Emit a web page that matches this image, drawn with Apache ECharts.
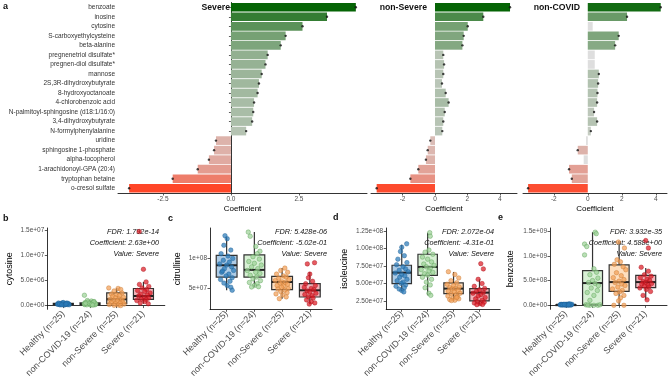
<!DOCTYPE html>
<html>
<head>
<meta charset="utf-8">
<script src="https://cdn.jsdelivr.net/npm/echarts@6/dist/echarts.min.js"></script>
<style>
html, body { margin: 0; padding: 0; background: #fff; }
#main { width: 669px; height: 384px; }
</style>
</head>
<body>
<div id="main"></div>
<script>
// ---- panel a: coefficients per comparison ----
var metabolites = ['benzoate', 'inosine', 'cytosine', 'S-carboxyethylcysteine', 'beta-alanine',
  'pregnenetriol disulfate*', 'pregnen-diol disulfate*', 'mannose', '2S,3R-dihydroxybutyrate',
  '8-hydroxyoctanoate', '4-chlorobenzoic acid', 'N-palmitoyl-sphingosine (d18:1/16:0)',
  '3,4-dihydroxybutyrate', 'N-formylphenylalanine', 'uridine', 'sphingosine 1-phosphate',
  'alpha-tocopherol', '1-arachidonoyl-GPA (20:4)', 'tryptophan betaine', 'o-cresol sulfate'];
var severeCoef = [4.59, 3.53, 2.63, 2.01, 1.83, 1.35, 1.27, 1.13, 1.03, 0.98, 0.85, 0.82, 0.78, 0.56, -0.55, -0.62, -0.81, -1.22, -2.14, -3.74];
var nonSevereCoef = [4.63, 2.98, 2.02, 1.77, 1.69, 0.51, 0.56, 0.51, 0.43, 0.66, 0.84, 0.6, 0.51, 0.45, -0.29, -0.45, -0.56, -1.03, -1.52, -3.6];
var nonCovidCoef = [4.29, 2.31, 0.29, 1.82, 1.61, 0.41, 0.41, 0.65, 0.61, 0.57, 0.55, 0.37, 0.55, 0.18, -0.1, -0.59, -0.24, -1.1, -0.94, -3.51];
var severeSig = [1, 1, 1, 1, 1, 1, 1, 1, 1, 1, 1, 1, 1, 1, 1, 1, 1, 1, 1, 1];
var nonSevereSig = [1, 1, 1, 1, 1, 1, 1, 1, 1, 1, 1, 1, 1, 1, 1, 1, 1, 1, 1, 1];
var nonCovidSig = [1, 1, 0, 1, 1, 0, 0, 1, 1, 1, 1, 1, 1, 1, 0, 1, 0, 1, 1, 1];
var panelTitles = ['Severe', 'non-Severe', 'non-COVID'];
var severeTicks = [-2.5, 0, 2.5];
var otherTicks = [-2, 0, 2, 4];

// ---- panels b-e: groups, box stats [min, Q1, median, Q3, max], points [jitter, value] ----
var groups = ['Healthy (n=25)', 'non-COVID-19 (n=24)', 'non-Severe (n=25)', 'Severe (n=21)'];

// cytosine, units of 1e6
var cytosineBox = [[0.1, 0.2, 0.3, 0.45, 0.7], [0.1, 0.15, 0.3, 0.55, 1.1], [0, 0.36, 1.25, 2.52, 3.5], [0.36, 1.25, 1.9, 3.39, 4.7]];
var cytosinePts = [
  [[-0.2,0.3],[-0.15,0.2],[-0.1,0.4],[-0.05,0.25],[0,0.35],[0.05,0.3],[0.1,0.45],[0.15,0.2],[0.2,0.3],[-0.18,0.5],[-0.12,0.15],[-0.03,0.55],[0.03,0.1],[0.08,0.25],[0.12,0.35],[0.18,0.4],[-0.08,0.3],[0.22,0.15],[-0.22,0.25],[0,0.6],[0.06,0.2],[-0.14,0.35],[0.14,0.5],[-0.06,0.15],[0.1,0.3]],
  [[-0.21,2.05],[-0.1,1.0],[0.05,0.9],[0.15,0.8],[-0.18,0.6],[-0.05,0.5],[0.1,0.6],[0.2,0.4],[-0.15,0.3],[0,0.3],[0.12,0.2],[-0.2,0.2],[0.08,0.45],[-0.08,0.7],[0.18,0.15],[0.02,0.1],[-0.12,0.15],[0.22,0.3],[0.14,0.7],[-0.02,0.4],[-0.22,0.35],[0.06,0.25],[-0.16,0.45],[0.1,0.1]],
  [[-0.3,3.5],[0.05,3.4],[0.15,3.2],[-0.1,2.9],[0.2,2.5],[-0.2,2.3],[0,2.2],[0.1,2.0],[-0.15,1.8],[0.25,1.6],[-0.05,1.5],[0.08,1.3],[-0.25,1.2],[0.18,1.1],[-0.12,1.0],[0.02,0.9],[0.22,0.7],[-0.2,0.6],[0.12,0.5],[-0.05,0.4],[0.28,0.3],[-0.28,0.2],[0.06,0.1],[-0.1,0.05],[0.15,0]],
  [[-0.16,14.7],[0,7.2],[0.1,4.7],[-0.15,4.2],[0.2,3.8],[-0.05,3.5],[0.12,3.2],[-0.22,3.0],[0.05,2.8],[0.25,2.5],[-0.1,2.3],[0.15,2.1],[-0.18,1.9],[0.02,1.7],[0.2,1.5],[-0.08,1.3],[0.1,1.2],[-0.25,1.0],[0.05,0.8],[-0.12,0.5],[0.18,0.36]]
];
// citrulline, units of 1e7
var citrullineBox = [[4.7, 6.9, 8.87, 10.53, 13.6], [5.25, 6.9, 8.1, 10.6, 14.4], [3.3, 4.8, 6.08, 7.03, 8.4], [2.37, 3.58, 4.7, 5.8, 7.75]];
var citrullinePts = [
  [[-0.06,13.8],[0.02,13.3],[-0.1,12.2],[0.15,11.4],[-0.2,10.8],[0.05,10.4],[0.22,10.0],[-0.12,9.7],[0.1,9.4],[-0.25,9.1],[0,8.9],[0.18,8.6],[-0.08,8.3],[0.25,8.0],[-0.18,7.7],[0.08,7.4],[-0.02,7.1],[0.2,6.8],[-0.22,6.5],[0.12,6.2],[-0.1,5.9],[0.02,5.5],[0.15,5.2],[-0.15,7.9],[0.2,4.7]],
  [[-0.22,14.4],[-0.15,13.7],[0.05,12.0],[0.2,11.2],[0.1,10.8],[-0.05,10.3],[0.18,9.9],[-0.2,9.5],[0,9.2],[0.25,8.9],[-0.1,8.6],[0.12,8.3],[-0.25,8.0],[0.05,7.7],[0.2,7.5],[-0.15,7.2],[0.08,6.9],[-0.05,6.6],[0.22,6.3],[-0.18,6.0],[0.1,5.8],[0,5.5],[-0.1,5.25],[0.15,5.3]],
  [[0.1,8.4],[-0.05,8.0],[0.2,7.7],[-0.2,7.4],[0.05,7.1],[0.15,6.9],[-0.12,6.7],[0.25,6.5],[-0.25,6.3],[0,6.1],[0.12,6.0],[-0.08,5.9],[0.2,5.7],[-0.18,5.5],[0.05,5.4],[-0.02,5.2],[0.22,5.0],[-0.15,4.9],[0.1,4.7],[-0.05,4.5],[0.18,4.3],[-0.22,4.1],[0.02,3.9],[0.15,3.6],[-0.1,3.3]],
  [[-0.09,9.1],[0.17,9.3],[0,7.4],[-0.05,6.8],[0.1,6.2],[-0.15,5.8],[0.2,5.5],[-0.2,5.2],[0.05,5.0],[0.15,4.8],[-0.1,4.6],[0,4.4],[0.22,4.2],[-0.18,4.0],[0.08,3.8],[-0.05,3.6],[0.12,3.4],[-0.12,3.1],[0.05,2.8],[0.18,2.6],[-0.02,2.4]]
];
// isoleucine, units of 1e7
var isoleucineBox = [[3.9, 4.98, 6.56, 7.62, 10.58], [3.3, 6.18, 7.38, 9.2, 12.3], [2.55, 3.55, 4.27, 5.08, 6.66], [1.97, 2.5, 3.69, 4.27, 5.6]];
var isoleucinePts = [
  [[0.19,10.7],[0,10.2],[-0.05,9.6],[0.1,9.0],[-0.15,8.5],[0.2,8.0],[-0.2,7.7],[0.05,7.4],[0.15,7.1],[-0.1,6.9],[0.25,6.7],[-0.25,6.5],[0,6.3],[0.12,6.1],[-0.08,5.9],[0.2,5.6],[-0.18,5.4],[0.05,5.2],[-0.02,5.0],[0.15,4.8],[-0.22,4.6],[0.1,4.4],[-0.1,4.2],[0,4.0],[0.08,3.8]],
  [[0.08,12.3],[0.1,11.8],[0.05,9.8],[-0.1,9.5],[0.2,9.2],[-0.2,8.8],[0,8.5],[0.15,8.1],[-0.15,7.8],[0.25,7.6],[-0.05,7.4],[0.1,7.2],[-0.25,7.0],[0.05,6.8],[0.2,6.6],[-0.12,6.4],[0,6.2],[-0.2,5.9],[0.15,5.6],[-0.05,5.2],[0.1,4.8],[-0.1,4.4],[0.05,3.6],[0.12,3.3]],
  [[-0.2,6.7],[0.05,6.3],[0.2,5.8],[-0.1,5.4],[0.12,5.1],[-0.25,4.9],[0,4.7],[0.22,4.5],[-0.15,4.4],[0.08,4.3],[-0.05,4.2],[0.18,4.0],[-0.2,3.9],[0.02,3.8],[0.25,3.6],[-0.1,3.5],[0.1,3.4],[-0.22,3.2],[0.15,3.1],[-0.02,2.9],[0.2,2.8],[-0.15,2.7],[0.05,2.6],[-0.08,2.55],[0.12,3.0]],
  [[0.05,7.85],[0.15,7.1],[-0.05,5.6],[0.1,5.0],[-0.2,4.6],[0.2,4.3],[0,4.1],[-0.12,3.9],[0.15,3.7],[-0.25,3.6],[0.05,3.4],[-0.05,3.2],[0.22,3.0],[-0.15,2.8],[0.1,2.6],[-0.08,2.4],[0.18,2.3],[-0.2,2.2],[0.02,2.1],[0.12,2.0],[-0.1,1.97]]
];
// benzoate, units of 1e8
var benzoateBox = [[0, 0.05, 0.1, 0.15, 0.3], [0, 0.12, 4.5, 7.0, 14.8], [0, 2.83, 4.7, 8.2, 12.8], [1.1, 3.56, 4.7, 6.07, 7.55]];
var benzoatePts = [
  [[-0.2,0.1],[-0.15,0.05],[-0.1,0.15],[-0.05,0.1],[0,0.2],[0.05,0.1],[0.1,0.05],[0.15,0.15],[0.2,0.1],[-0.18,0.2],[-0.12,0.1],[-0.03,0.05],[0.03,0.15],[0.08,0.25],[0.12,0.1],[0.18,0.05],[-0.08,0.15],[0.22,0.2],[-0.22,0.1],[0,0.05],[0.06,0.1],[-0.14,0.15],[0.14,0.3],[-0.06,0.2],[0.1,0.1]],
  [[0.1,14.8],[0.14,14.5],[-0.3,12.4],[-0.22,11.9],[-0.3,10.2],[0.05,7.4],[0.15,6.7],[-0.1,6.2],[0.2,5.5],[0,5.0],[-0.15,4.6],[0.1,4.4],[0.22,4.0],[-0.05,3.5],[0.18,3.0],[-0.2,2.6],[0.05,2.0],[-0.1,1.0],[-0.25,0.1],[-0.1,0],[0.05,0],[0.2,0],[0.28,0.1],[-0.18,0.05]],
  [[-0.03,12.8],[0.2,11.6],[-0.08,9.2],[0.05,8.8],[-0.18,8.3],[0.15,7.8],[0.25,7.2],[-0.1,6.6],[0.08,6.0],[-0.22,5.6],[0.18,5.2],[0,4.9],[-0.15,4.6],[0.1,4.3],[0.22,4.0],[-0.05,3.7],[-0.25,3.3],[0.12,3.0],[0.02,2.7],[-0.12,2.4],[0.18,2.0],[0.05,1.5],[-0.2,0],[0.18,0],[-0.02,0.9]],
  [[0,13.1],[0.1,11.6],[-0.17,7.7],[0.1,6.9],[-0.05,6.2],[0.2,5.9],[-0.2,5.6],[0.05,5.3],[0.15,5.0],[-0.1,4.8],[0,4.6],[0.22,4.4],[-0.15,4.3],[0.08,4.1],[-0.05,3.9],[0.12,3.7],[-0.22,3.5],[0.02,3.2],[0.18,2.8],[-0.1,2.0],[0.05,1.1]]
];

var FONT = '"Liberation Sans", Arial, sans-serif';
var boxFill = ['rgba(125,172,214,0.62)', 'rgba(195,232,190,0.65)', 'rgba(253,204,155,0.65)', 'rgba(238,135,145,0.62)'];
var ptFill = ['#2b7bba', '#9fd39a', '#f2a057', '#dd1c26'];
var ptEdge = ['#1f5f96', '#5aa055', '#c8782f', '#a8101a'];

function mix(a, b, t) {
  var c = a.map(function (x, i) { return Math.round(x + (b[i] - x) * t); });
  return 'rgb(' + c.join(',') + ')';
}
function barColor(v, sig) {
  if (!sig) return '#dedede';
  if (v >= 0) return mix([205, 208, 202], [5, 100, 5], Math.min(v / 4.6, 1));
  return mix([215, 198, 194], [255, 70, 40], Math.min(-v / 3.75, 1));
}
function sci(v, d) {
  return v.toExponential(d).replace(/e([+-])(\d)$/, 'e$10$2');
}

var chart = echarts.init(document.getElementById('main'), null, { renderer: 'canvas' });

var grids = [
  { left: 118, top: 2.5, width: 249, height: 190.5 },
  { left: 371, top: 2.5, width: 146, height: 190.5 },
  { left: 523, top: 2.5, width: 144, height: 190.5 },
  { left: 47.3, top: 228, width: 117.5, height: 81.3 },
  { left: 210, top: 228, width: 122, height: 81.3 },
  { left: 386.2, top: 228, width: 114, height: 81.3 },
  { left: 550, top: 228, width: 117, height: 81.3 }
];

var xAxes = [], yAxes = [], series = [];

// top panels
var coefs = [severeCoef, nonSevereCoef, nonCovidCoef];
var sigs = [severeSig, nonSevereSig, nonCovidSig];
var ranges = [[-4.15, 5.0], [-3.95, 5.06], [-3.81, 4.66]];
for (var g = 0; g < 3; g++) {
  var ticks = g === 0 ? severeTicks : otherTicks;
  xAxes.push({
    type: 'value', gridIndex: g, min: ranges[g][0], max: ranges[g][1],
    name: 'Coefficient', nameLocation: 'middle', nameGap: 12,
    nameTextStyle: { fontSize: 8, color: '#000', fontFamily: FONT },
    axisLine: { show: true, lineStyle: { color: '#000', width: 0.8 } },
    axisTick: { show: true, length: 2.5, customValues: ticks, lineStyle: { color: '#333', width: 0.8 } },
    axisLabel: { customValues: ticks, fontSize: 6.5, color: '#4d4d4d', margin: 3, fontFamily: FONT,
      formatter: g === 0 ? function (v) { return v.toFixed(1); } : function (v) { return String(Math.round(v)); } },
    splitLine: { show: false }
  });
  yAxes.push({
    type: 'category', gridIndex: g, data: metabolites, inverse: true,
    axisLine: { show: g === 0, lineStyle: { color: '#000', width: 0.8 } },
    axisTick: { show: g === 0, length: 2, alignWithLabel: true, lineStyle: { color: '#333', width: 0.8 } },
    axisLabel: { show: g === 0, fontSize: 6.5, color: '#333', margin: 3, fontFamily: FONT }
  });
  (function (coef, sig, gi) {
    series.push({
      type: 'bar', xAxisIndex: gi, yAxisIndex: gi, barCategoryGap: '9%', silent: true,
      data: coef.map(function (v, i) { return { value: v, itemStyle: { color: barColor(v, sig[i]) } }; })
    });
    var dots = [];
    coef.forEach(function (v, i) { if (sig[i]) dots.push([v, i]); });
    series.push({
      type: 'scatter', xAxisIndex: gi, yAxisIndex: gi, symbolSize: 2.4, silent: true, z: 3,
      itemStyle: { color: '#111' }, data: dots
    });
  })(coefs[g], sigs[g], g);
}

// bottom panels
var bottom = [
  { box: cytosineBox, pts: cytosinePts, scale: 1e6, min: -0.74e6, max: 1.54e7, ticks: [0, 5e6, 1e7, 1.5e7], dig: 1, name: 'cytosine', gap: 33 },
  { box: citrullineBox, pts: citrullinePts, scale: 1e7, min: 1.53e7, max: 1.508e8, ticks: [5e7, 1e8], dig: 0, name: 'citrulline', gap: 28 },
  { box: isoleucineBox, pts: isoleucinePts, scale: 1e7, min: 1.3e7, max: 1.297e8, ticks: [2.5e7, 5e7, 7.5e7, 1e8, 1.25e8], dig: 2, name: 'isoleucine', gap: 37.5 },
  { box: benzoateBox, pts: benzoatePts, scale: 1e8, min: -8.1e7, max: 1.565e9, ticks: [0, 5e8, 1e9, 1.5e9], dig: 1, name: 'benzoate', gap: 34.5 }
];
bottom.forEach(function (p, k) {
  var gi = k + 3;
  xAxes.push({
    type: 'value', gridIndex: gi, min: 0.4, max: 4.8,
    axisLine: { show: true, lineStyle: { color: '#000', width: 0.8 } },
    axisTick: { show: true, length: 2.5, customValues: [1, 2, 3, 4], lineStyle: { color: '#333', width: 0.8 } },
    axisLabel: { customValues: [1, 2, 3, 4], rotate: 45, fontSize: 9, color: '#4d4d4d', margin: 3, fontFamily: FONT,
      formatter: function (v) { return groups[Math.round(v) - 1]; } },
    splitLine: { show: false }
  });
  yAxes.push({
    type: 'value', gridIndex: gi, min: p.min, max: p.max,
    name: p.name, nameLocation: 'middle', nameGap: p.gap, nameRotate: 90,
    nameTextStyle: { fontSize: 9, color: '#000', fontFamily: FONT },
    axisLine: { show: true, lineStyle: { color: '#000', width: 0.8 } },
    axisTick: { show: true, length: 2.5, customValues: p.ticks, lineStyle: { color: '#333', width: 0.8 } },
    axisLabel: { customValues: p.ticks, fontSize: 6.5, color: '#4d4d4d', margin: 3, fontFamily: FONT,
      formatter: (function (d) { return function (v) { return sci(v, d); }; })(p.dig) },
    splitLine: { show: false }
  });
  series.push({
    type: 'custom', xAxisIndex: gi, yAxisIndex: gi, silent: true, z: 2,
    encode: { x: 0, y: [1, 2, 3, 4, 5] },
    data: p.box.map(function (s, i) { return [i + 1].concat(s.map(function (x) { return x * p.scale; })); }),
    renderItem: function (params, api) {
      var x = api.value(0);
      var a = api.coord([x, api.value(1)]);
      var q1 = api.coord([x, api.value(2)]);
      var md = api.coord([x, api.value(3)]);
      var q3 = api.coord([x, api.value(4)]);
      var b = api.coord([x, api.value(5)]);
      var w = api.size([0.75, 0])[0];
      var ln = { stroke: '#333', lineWidth: 1.2 };
      return { type: 'group', children: [
        { type: 'line', shape: { x1: a[0], y1: a[1], x2: q1[0], y2: q1[1] }, style: ln },
        { type: 'line', shape: { x1: q3[0], y1: q3[1], x2: b[0], y2: b[1] }, style: ln },
        { type: 'rect', shape: { x: q1[0] - w / 2, y: q3[1], width: w, height: Math.max(q1[1] - q3[1], 1) },
          style: { fill: boxFill[params.dataIndex], stroke: '#333', lineWidth: 1.2 } },
        { type: 'line', shape: { x1: md[0] - w / 2, y1: md[1], x2: md[0] + w / 2, y2: md[1] }, style: { stroke: '#222', lineWidth: 2 } }
      ] };
    }
  });
  var pts = [];
  p.pts.forEach(function (grp, ci) {
    grp.forEach(function (q) {
      pts.push({ value: [ci + 1 + q[0], q[1] * p.scale],
        itemStyle: { color: ptFill[ci], borderColor: ptEdge[ci], borderWidth: 0.6, opacity: 0.72 } });
    });
  });
  series.push({ type: 'scatter', xAxisIndex: gi, yAxisIndex: gi, symbolSize: 4.5, silent: true, z: 4, data: pts });
});

// annotations
function txt(x, y, s, font, align) {
  return { type: 'text', x: x, y: y, silent: true,
    style: { text: s, font: font, fill: '#111', align: align || 'left', verticalAlign: 'middle' } };
}
var bold9 = 'bold 9px ' + FONT;
var ital = 'italic 7.3px ' + FONT;
var graphic = [
  txt(3, 7, 'a', bold9), txt(3, 219, 'b', bold9), txt(168, 219, 'c', bold9),
  txt(333, 218, 'd', bold9), txt(498, 218, 'e', bold9),
  txt(230, 7.5, panelTitles[0], 'bold 8.7px ' + FONT, 'right'),
  txt(427, 7.5, panelTitles[1], 'bold 8.7px ' + FONT, 'right'),
  txt(580, 7.5, panelTitles[2], 'bold 8.7px ' + FONT, 'right')
];
var notes = [
  [159, ['FDR: 1.792e-14', 'Coefficient: 2.63e+00', 'Value: Severe']],
  [327, ['FDR: 5.428e-06', 'Coefficient: -5.02e-01', 'Value: Severe']],
  [494, ['FDR: 2.072e-04', 'Coefficient: -4.31e-01', 'Value: Severe']],
  [662, ['FDR: 3.932e-35', 'Coefficient: 4.588e+00', 'Value: Severe']]
];
notes.forEach(function (n) {
  n[1].forEach(function (s, i) { graphic.push(txt(n[0], 232 + i * 11, s, ital, 'right')); });
});

chart.setOption({
  animation: false,
  backgroundColor: '#fff',
  textStyle: { fontFamily: FONT },
  grid: grids,
  xAxis: xAxes,
  yAxis: yAxes,
  series: series,
  graphic: graphic
});
</script>
</body>
</html>
